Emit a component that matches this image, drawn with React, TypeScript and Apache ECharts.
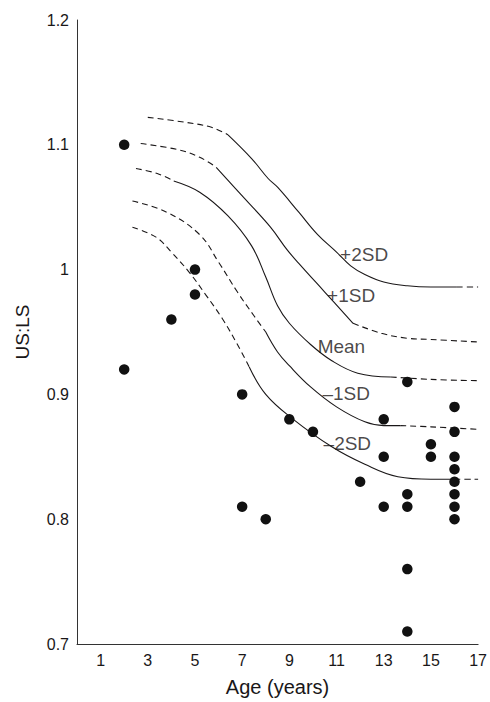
import React, { useEffect, useRef } from "react";
import * as echarts from "echarts";

// Observed data points (age in years, US:LS ratio)
const AGES = [2, 2, 4, 5, 5, 7, 7, 8, 9, 10, 12, 13, 13, 13, 14, 14, 14, 14, 14, 15, 15, 16, 16, 16, 16, 16, 16, 16, 16];
const RATIOS = [1.1, 0.92, 0.96, 1.0, 0.98, 0.9, 0.81, 0.8, 0.88, 0.87, 0.83, 0.88, 0.85, 0.81, 0.91, 0.82, 0.81, 0.76, 0.71, 0.86, 0.85, 0.89, 0.87, 0.85, 0.84, 0.83, 0.82, 0.81, 0.8];

// Reference centile curves (x = age, y = US:LS)
const CURVE_P2SD: number[][] = [[3.0, 1.122], [4.6, 1.118], [5.7, 1.114], [6.4, 1.108], [7.4, 1.089], [8.1, 1.073], [8.5, 1.066], [9.4, 1.046], [10.2, 1.028], [11.0, 1.014], [11.6, 1.003], [12.2, 0.996], [13.0, 0.990], [14.0, 0.987], [15.0, 0.986], [16.1, 0.986], [17.0, 0.986]];
const CURVE_P1SD: number[][] = [[2.7, 1.101], [4.3, 1.096], [5.2, 1.090], [5.9, 1.082], [7.1, 1.057], [8.2, 1.034], [8.9, 1.016], [9.4, 1.005], [10.5, 0.982], [11.7, 0.957], [12.9, 0.949], [14.0, 0.945], [15.0, 0.944], [17.0, 0.942]];
const CURVE_MEAN: number[][] = [[2.5, 1.081], [3.4, 1.077], [4.1, 1.071], [5.2, 1.062], [6.4, 1.043], [7.4, 1.019], [8.0, 0.994], [8.5, 0.971], [9.0, 0.957], [9.9, 0.940], [10.8, 0.927], [11.9, 0.917], [13.3, 0.914], [15.0, 0.912], [17.0, 0.911]];
const CURVE_M1SD: number[][] = [[2.35, 1.055], [3.8, 1.046], [5.2, 1.028], [6.0, 1.006], [6.8, 0.982], [7.5, 0.963], [8.0, 0.950], [8.5, 0.934], [9.0, 0.923], [9.9, 0.906], [11.0, 0.890], [12.2, 0.878], [13.0, 0.875], [13.7, 0.875], [15.0, 0.874], [17.0, 0.872]];
const CURVE_M2SD: number[][] = [[2.35, 1.034], [3.35, 1.026], [4.0, 1.014], [4.75, 0.998], [5.45, 0.980], [6.15, 0.961], [6.8, 0.940], [7.3, 0.922], [8.0, 0.900], [9.1, 0.881], [10.8, 0.858], [12.2, 0.844], [13.6, 0.834], [15.0, 0.832], [16.0, 0.832], [17.0, 0.832]];

// Solid part of each curve (age range); outside it the curve is dashed
const CURVES = [CURVE_P2SD, CURVE_P1SD, CURVE_MEAN, CURVE_M1SD, CURVE_M2SD];
const SOLID_FROM = [6.4, 5.9, 4.1, 8.0, 7.3];
const SOLID_TO = [16.1, 11.7, 13.3, 13.7, 16.0];

// Curve labels
const LABEL_NAMES = ["+2SD", "+1SD", "Mean", "\u20131SD", "\u20132SD"];
const LABEL_X = [11.15, 10.6, 10.2, 10.4, 10.45];
const LABEL_Y = [1.012, 0.9795, 0.938, 0.9006, 0.8608];

const X_TICKS = [1, 3, 5, 7, 9, 11, 13, 15, 17];

const INK = "#1a1718";
const FONT = "Liberation Sans, Arial, sans-serif";

export default function App() {
  const ref = useRef<HTMLDivElement>(null);
  useEffect(() => {
    if (!ref.current) return;
    const chart = echarts.init(ref.current, null, { renderer: "svg" });

    const lineSeries: any[] = [];
    CURVES.forEach((pts, i) => {
      const a = SOLID_FROM[i];
      const b = SOLID_TO[i];
      const segs = [
        { data: pts.filter((p) => p[0] <= a), dashed: true },
        { data: pts.filter((p) => p[0] >= a && p[0] <= b), dashed: false },
        { data: pts.filter((p) => p[0] >= b), dashed: true },
      ];
      segs.forEach((s) => {
        if (s.data.length < 2) return;
        lineSeries.push({
          type: "line",
          data: s.data,
          smooth: 0.4,
          showSymbol: false,
          symbol: "none",
          silent: true,
          z: 2,
          lineStyle: {
            color: INK,
            width: 1.1,
            type: s.dashed ? [6, 4] : "solid",
          },
        });
      });
    });

    const option: any = {
      animation: false,
      backgroundColor: "#ffffff",
      textStyle: { fontFamily: FONT },
      grid: { left: 77, right: 8, top: 20, bottom: 54, containLabel: false },
      xAxis: {
        type: "value",
        min: 0,
        max: 17,
        interval: 1,
        name: "Age (years)",
        nameLocation: "middle",
        nameGap: 33,
        nameTextStyle: { fontSize: 20, color: INK, fontFamily: FONT },
        axisLine: { show: true, lineStyle: { color: "#333", width: 1 } },
        axisTick: { show: false },
        splitLine: { show: false },
        axisLabel: {
          fontSize: 16,
          color: INK,
          margin: 8,
          fontFamily: FONT,
          formatter: (v: number) => (X_TICKS.indexOf(v) >= 0 ? String(v) : ""),
        },
      },
      yAxis: {
        type: "value",
        min: 0.7,
        max: 1.2,
        interval: 0.1,
        name: "US:LS",
        nameLocation: "middle",
        nameGap: 45,
        nameTextStyle: { fontSize: 19, color: INK, fontFamily: FONT },
        axisLine: { show: true, lineStyle: { color: "#333", width: 1 } },
        axisTick: { show: false },
        splitLine: { show: false },
        axisLabel: {
          fontSize: 16,
          color: INK,
          margin: 8,
          fontFamily: FONT,
          formatter: (v: number) => String(Math.round(v * 10) / 10),
        },
      },
      series: [
        ...lineSeries,
        {
          type: "scatter",
          data: LABEL_NAMES.map((n, i) => [LABEL_X[i], LABEL_Y[i], n]),
          symbolSize: 0,
          silent: true,
          z: 3,
          label: {
            show: true,
            position: "right",
            distance: 0,
            formatter: (p: any) => p.data[2],
            fontSize: 19,
            color: INK,
            fontFamily: FONT,
          },
        },
        {
          type: "scatter",
          data: AGES.map((a, i) => [a, RATIOS[i]]),
          symbol: "circle",
          symbolSize: 10.5,
          z: 5,
          itemStyle: { color: "#111111", opacity: 1 },
        },
      ],
    };
    chart.setOption(option);
    return () => chart.dispose();
  }, []);
  return (
    <div
      ref={ref}
      style={{ position: "fixed", left: 0, top: 0, width: 490, height: 702 }}
    />
  );
}
